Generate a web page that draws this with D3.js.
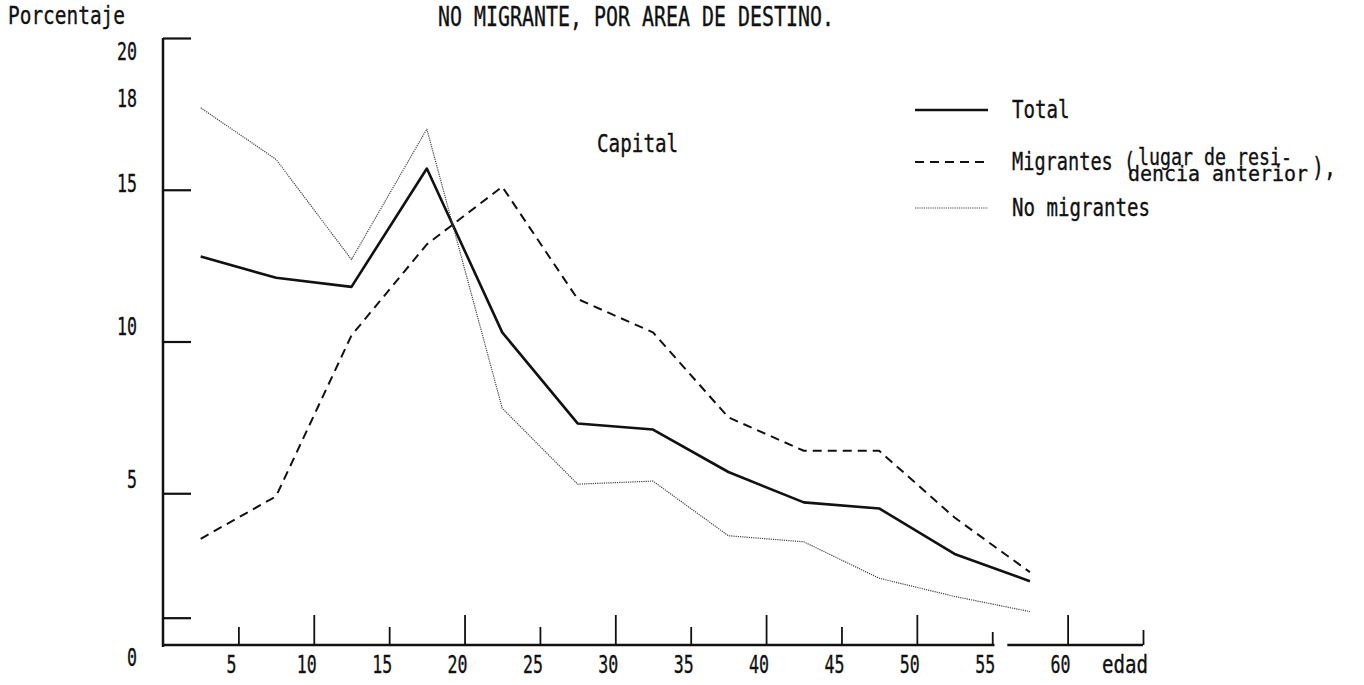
<!DOCTYPE html>
<html>
<head>
<meta charset="utf-8">
<script src="https://cdn.jsdelivr.net/npm/d3@7"></script>
<style>
  body { margin: 0; background: #fff; }
  svg { display: block; }
  text { font-family: "DejaVu Sans Mono", "Liberation Mono", monospace; fill: #111; stroke: #111; stroke-width: 0.35; }
</style>
</head>
<body>
<svg id="chart" width="1364" height="685"></svg>
<script>
// edades centrales de cada grupo quinquenal
const ages = [2.5, 7.5, 12.5, 17.5, 22.5, 27.5, 32.5, 37.5, 42.5, 47.5, 52.5, 57.5];
const total = [12.8, 12.1, 11.8, 15.7, 10.3, 7.3, 7.1, 5.7, 4.7, 4.5, 3.0, 2.1];
const migrantes = [3.5, 4.9, 10.2, 13.2, 15.1, 11.4, 10.3, 7.5, 6.4, 6.4, 4.2, 2.4];
const noMigrantes = [17.7, 16.0, 12.7, 17.0, 7.8, 5.3, 5.4, 3.6, 3.4, 2.2, 1.6, 1.1];

const yTickValues = [20, 15, 10, 5, 0.9];
const yLabels = ["20", "18", "15", "10", "5", "0"];
const xMajorTicks = [10, 20, 30, 40, 50, 60];
const xMinorTicks = [5, 15, 25, 35, 45];
const xTinyTicks = [55];
const xLabels = ["5", "10", "15", "20", "25", "30", "35", "40", "45", "50", "55", "60"];

const svg = d3.select("#chart");

const x = d3.scaleLinear().domain([0, 65]).range([163, 1143]);
const y = d3.scaleLinear().domain([0, 20]).range([645, 38]);

// texto condensado tipo máquina de escribir
function typed(sel, pitch) {
    sel.each(function() {
        const t = d3.select(this);
        t.attr("textLength", t.text().length * pitch).attr("lengthAdjust", "spacingAndGlyphs");
    });
    return sel;
}

// ejes
const yAxis = svg.append("g")
    .attr("transform", `translate(${x(0)},0)`)
    .call(d3.axisRight(y).tickValues(yTickValues).tickSize(28).tickFormat(""));
yAxis.select(".domain").remove();
yAxis.selectAll("line").attr("stroke", "#111").attr("stroke-width", 2.2);

svg.append("line")
    .attr("x1", x(0)).attr("x2", x(0))
    .attr("y1", y(20)).attr("y2", y(0) + 2)
    .attr("stroke", "#111").attr("stroke-width", 2.5);

function xTicks(values, size) {
    const g = svg.append("g")
        .attr("transform", `translate(0,${y(0)})`)
        .call(d3.axisTop(x).tickValues(values).tickSize(size).tickFormat(""));
    g.select(".domain").remove();
    g.selectAll("line").attr("stroke", "#111").attr("stroke-width", 1.8);
}
xTicks(xMajorTicks, 30);
xTicks(xMinorTicks, 18);
xTicks(xTinyTicks, 13);
xTicks([65], 15);

// línea base del eje x (cortada entre 55 y 60)
[[0, 55.15], [56, 65]].forEach(([a, b]) => {
    svg.append("line")
        .attr("x1", x(a)).attr("x2", x(b))
        .attr("y1", y(0)).attr("y2", y(0))
        .attr("stroke", "#111").attr("stroke-width", 2.5);
});

// etiquetas de los ejes (escritas a máquina, algo corridas respecto a las marcas)
const yLabelShift = { "20": 22, "18": 8, "15": 2, "10": -7, "5": -5 };
svg.selectAll(".ylab")
    .data(yLabels)
    .join("text")
    .attr("class", "ylab")
    .attr("x", 137)
    .attr("y", d => d === "0" ? y(0) + 21 : y(+d) + yLabelShift[d])
    .attr("text-anchor", "end")
    .attr("font-size", "24px")
    .text(d => d)
    .call(typed, 10);

svg.selectAll(".xlab")
    .data(xLabels)
    .join("text")
    .attr("class", "xlab")
    .attr("x", d => x(+d) - 7)
    .attr("y", y(0) + 28)
    .attr("text-anchor", "middle")
    .attr("font-size", "24px")
    .text(d => d)
    .call(typed, 10);

svg.append("text")
    .attr("x", x(65) + 5)
    .attr("y", y(0) + 28)
    .attr("text-anchor", "end")
    .attr("font-size", "24px")
    .text("edad")
    .call(typed, 11.5);

svg.append("text")
    .attr("x", 8).attr("y", 24)
    .attr("font-size", "24px")
    .text("Porcentaje")
    .call(typed, 11.7);

svg.append("text")
    .attr("x", 438).attr("y", 26)
    .attr("font-size", "26px")
    .text("NO MIGRANTE, POR AREA DE DESTINO.")
    .call(typed, 12);

svg.append("text")
    .attr("x", 597).attr("y", 152)
    .attr("font-size", "24px")
    .text("Capital")
    .call(typed, 11.6);

// series
const line = d3.line()
    .x((d, i) => x(ages[i]))
    .y(d => y(d));

const series = [
    { name: "Total", values: total, width: 2.6, dash: null, color: "#111" },
    { name: "Migrantes", values: migrantes, width: 2, dash: "9,6", color: "#111" },
    { name: "No migrantes", values: noMigrantes, width: 1.2, dash: "1.2,1", color: "#444" }
];

svg.selectAll(".serie")
    .data(series)
    .join("path")
    .attr("class", "serie")
    .attr("fill", "none")
    .attr("stroke", d => d.color)
    .attr("stroke-width", d => d.width)
    .attr("stroke-dasharray", d => d.dash)
    .attr("stroke-linejoin", "round")
    .attr("d", d => line(d.values));

// leyenda
const legendY = [110, 162, 208];
series.forEach((s, i) => {
    svg.append("line")
        .attr("x1", 915).attr("x2", 988)
        .attr("y1", legendY[i]).attr("y2", legendY[i])
        .attr("stroke", s.color)
        .attr("stroke-width", s.width)
        .attr("stroke-dasharray", s.dash);
});

svg.append("text")
    .attr("x", 1012).attr("y", legendY[0] + 8)
    .attr("font-size", "24px")
    .text("Total")
    .call(typed, 11.5);

svg.append("text")
    .attr("x", 1012).attr("y", legendY[1] + 8)
    .attr("font-size", "24px")
    .text("Migrantes (")
    .call(typed, 11.2);
svg.append("text")
    .attr("x", 1138).attr("y", legendY[1] + 3)
    .attr("font-size", "23px")
    .text("lugar de resi-")
    .call(typed, 11);
svg.append("text")
    .attr("x", 1128).attr("y", legendY[1] + 19)
    .attr("font-size", "22px")
    .text("dencia anterior")
    .call(typed, 12);
svg.append("text")
    .attr("x", 1312).attr("y", legendY[1] + 14)
    .attr("font-size", "26px")
    .text("),")
    .call(typed, 12);

svg.append("text")
    .attr("x", 1012).attr("y", legendY[2] + 8)
    .attr("font-size", "24px")
    .text("No migrantes")
    .call(typed, 11.5);
</script>
</body>
</html>
